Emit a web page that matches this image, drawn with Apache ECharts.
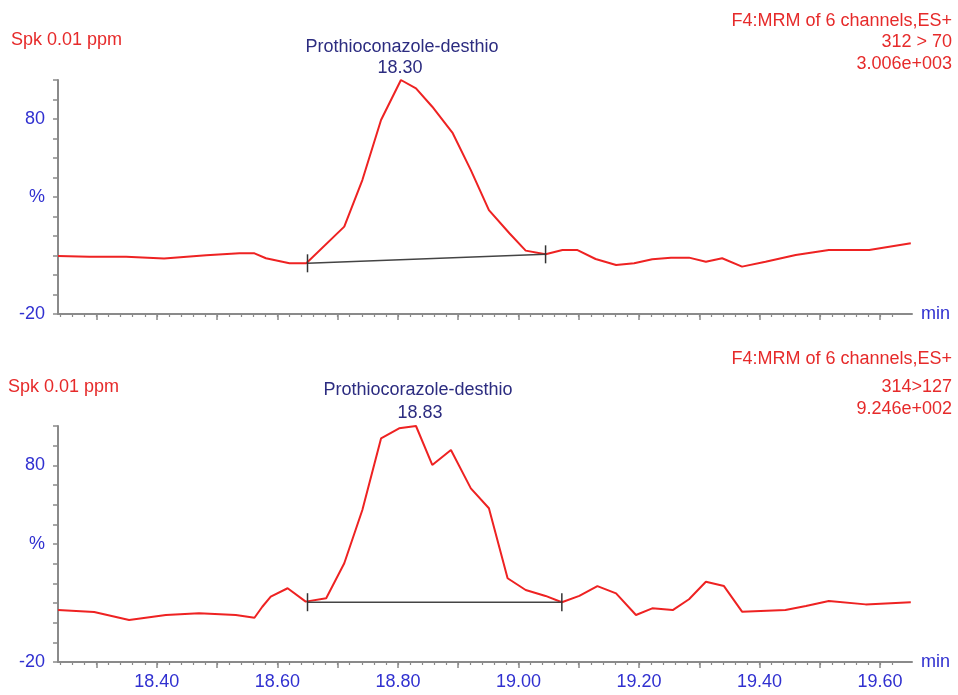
<!DOCTYPE html>
<html>
<head>
<meta charset="utf-8">
<script src="https://cdn.jsdelivr.net/npm/echarts@6/dist/echarts.min.js"></script>
<style>html,body{margin:0;padding:0;background:#fff}#c{width:958px;height:695px}</style>
</head>
<body>
<div id="c"></div>
<script>
// ---- data ----
const topTimes = [18.236, 18.288, 18.349, 18.412, 18.482, 18.537, 18.562, 18.581, 18.620, 18.648, 18.711, 18.741, 18.772, 18.805, 18.830, 18.857, 18.891, 18.921, 18.951, 18.985, 19.012, 19.045, 19.073, 19.098, 19.128, 19.162, 19.192, 19.222, 19.253, 19.283, 19.311, 19.338, 19.371, 19.410, 19.460, 19.515, 19.582, 19.651];
const topIntensity = [9.7, 9.4, 9.4, 8.4, 10.1, 11.1, 11.1, 8.6, 6.0, 6.0, 24.8, 48.7, 79.5, 100.0, 95.7, 86.3, 72.7, 53.8, 33.3, 21.4, 12.5, 10.6, 12.8, 12.8, 8.2, 5.1, 6.0, 8.1, 8.9, 8.9, 6.8, 8.6, 4.3, 6.8, 10.3, 12.8, 12.8, 16.3];
const bottomTimes = [18.236, 18.296, 18.354, 18.415, 18.470, 18.531, 18.562, 18.575, 18.589, 18.617, 18.647, 18.681, 18.711, 18.741, 18.772, 18.802, 18.830, 18.857, 18.888, 18.921, 18.951, 18.982, 19.012, 19.045, 19.072, 19.101, 19.131, 19.162, 19.195, 19.222, 19.256, 19.283, 19.311, 19.341, 19.371, 19.443, 19.477, 19.515, 19.576, 19.651];
const bottomIntensity = [6.4, 5.4, 1.4, 3.9, 4.8, 3.9, 2.5, 8.1, 13.2, 17.5, 10.7, 12.4, 30.2, 57.3, 93.7, 98.8, 100.0, 80.2, 87.8, 68.3, 58.2, 22.6, 16.6, 13.6, 10.4, 13.6, 18.6, 14.9, 3.9, 7.3, 6.4, 11.9, 20.8, 18.6, 5.6, 6.4, 8.5, 11.0, 9.3, 10.4];
const topBaselineTimes = [18.650, 19.045];
const topBaselineValues = [6.0, 10.6];
const bottomBaselineTimes = [18.650, 19.072];
const bottomBaselineValues = [10.4, 10.4];
const xLabelValues = [18.4, 18.6, 18.8, 19.0, 19.2, 19.4, 19.6];
const xMajorTicks = [18.3, 18.4, 18.5, 18.6, 18.7, 18.8, 18.9, 19.0, 19.1, 19.2, 19.3, 19.4, 19.5, 19.6];
const yLabelMap = { '80': '80', '40': '%', '-20': '-20' };
const xMin = 18.236, xMax = 19.653;
const xMinorTicks = [];
for (let i = 1; i <= 70; i++) { const v = +(18.22 + i * 0.02).toFixed(2); if (v > xMin && v < xMax) xMinorTicks.push(v); }

const FONT = 'Liberation Sans, Arial, sans-serif';
const RED = '#e62a2a', BLUE = '#3030d0', NAVY = '#2c2c80', AX = '#8a8a8a';

function zip(a, b) { return a.map((t, i) => [t, b[i]]); }

function xMain(grid, labels) {
  return {
    type: 'value', gridIndex: grid, min: xMin, max: xMax, position: 'bottom',
    name: 'min', nameLocation: 'end', nameGap: 9,
    nameTextStyle: { color: BLUE, fontSize: 18, fontFamily: FONT, verticalAlign: 'middle' },
    axisLine: { show: true, onZero: false, lineStyle: { color: AX, width: 2 } },
    axisTick: { show: true, length: 6, customValues: xMajorTicks, lineStyle: { color: AX, width: 1.5 } },
    axisLabel: { show: labels, customValues: xLabelValues, formatter: v => (+v).toFixed(2), color: BLUE, fontSize: 18, fontFamily: FONT, margin: 11 },
    splitLine: { show: false }
  };
}
function xMinor(grid) {
  return {
    type: 'value', gridIndex: grid, min: xMin, max: xMax, position: 'bottom',
    axisLine: { show: false, onZero: false },
    axisTick: { show: true, length: 3, customValues: xMinorTicks, lineStyle: { color: AX, width: 1.2 } },
    axisLabel: { show: false }, splitLine: { show: false }
  };
}
function yAx(grid) {
  return {
    type: 'value', gridIndex: grid, min: -20, max: 100, interval: 10,
    axisLine: { show: true, lineStyle: { color: AX, width: 2 } },
    axisTick: { show: true, length: 5, lineStyle: { color: AX, width: 1.5 } },
    axisLabel: { formatter: v => yLabelMap[String(v)] || '', color: BLUE, fontSize: 18, fontFamily: FONT, margin: 13 },
    splitLine: { show: false }
  };
}
function trace(xi, yi, t, v) {
  return { type: 'line', xAxisIndex: xi, yAxisIndex: yi, data: zip(t, v), showSymbol: false, smooth: false,
    lineStyle: { color: '#ee2222', width: 2 }, animation: false, z: 3 };
}
function baseline(xi, yi, t, v) {
  return { type: 'line', xAxisIndex: xi, yAxisIndex: yi, data: zip(t, v), showSymbol: true, symbol: 'rect',
    symbolSize: [1.5, 18], itemStyle: { color: '#333' }, lineStyle: { color: '#444', width: 1.5 }, animation: false, z: 4 };
}
function txt(x, y, s, color, align) {
  return { type: 'text', x: x, y: y, style: { text: s, fill: color, font: '18px ' + FONT, textAlign: align, textVerticalAlign: 'middle' } };
}

const chart = echarts.init(document.getElementById('c'));
chart.setOption({
  backgroundColor: '#fff',
  animation: false,
  grid: [
    { left: 58, top: 80, width: 854, height: 234 },
    { left: 58, top: 426, width: 854, height: 236 }
  ],
  xAxis: [xMain(0, false), xMain(1, true), xMinor(0), xMinor(1)],
  yAxis: [yAx(0), yAx(1)],
  series: [
    trace(0, 0, topTimes, topIntensity),
    baseline(0, 0, topBaselineTimes, topBaselineValues),
    trace(1, 1, bottomTimes, bottomIntensity),
    baseline(1, 1, bottomBaselineTimes, bottomBaselineValues)
  ],
  graphic: [
    txt(11, 40, 'Spk 0.01 ppm', RED, 'left'),
    txt(952, 21, 'F4:MRM of 6 channels,ES+', RED, 'right'),
    txt(952, 42.5, '312 > 70', RED, 'right'),
    txt(952, 64, '3.006e+003', RED, 'right'),
    txt(402, 47, 'Prothioconazole-desthio', NAVY, 'center'),
    txt(400, 68, '18.30', NAVY, 'center'),
    txt(8, 387, 'Spk 0.01 ppm', RED, 'left'),
    txt(952, 359, 'F4:MRM of 6 channels,ES+', RED, 'right'),
    txt(952, 387.5, '314>127', RED, 'right'),
    txt(952, 409, '9.246e+002', RED, 'right'),
    txt(418, 390, 'Prothiocorazole-desthio', NAVY, 'center'),
    txt(420, 413, '18.83', NAVY, 'center')
  ]
});
</script>
</body>
</html>
